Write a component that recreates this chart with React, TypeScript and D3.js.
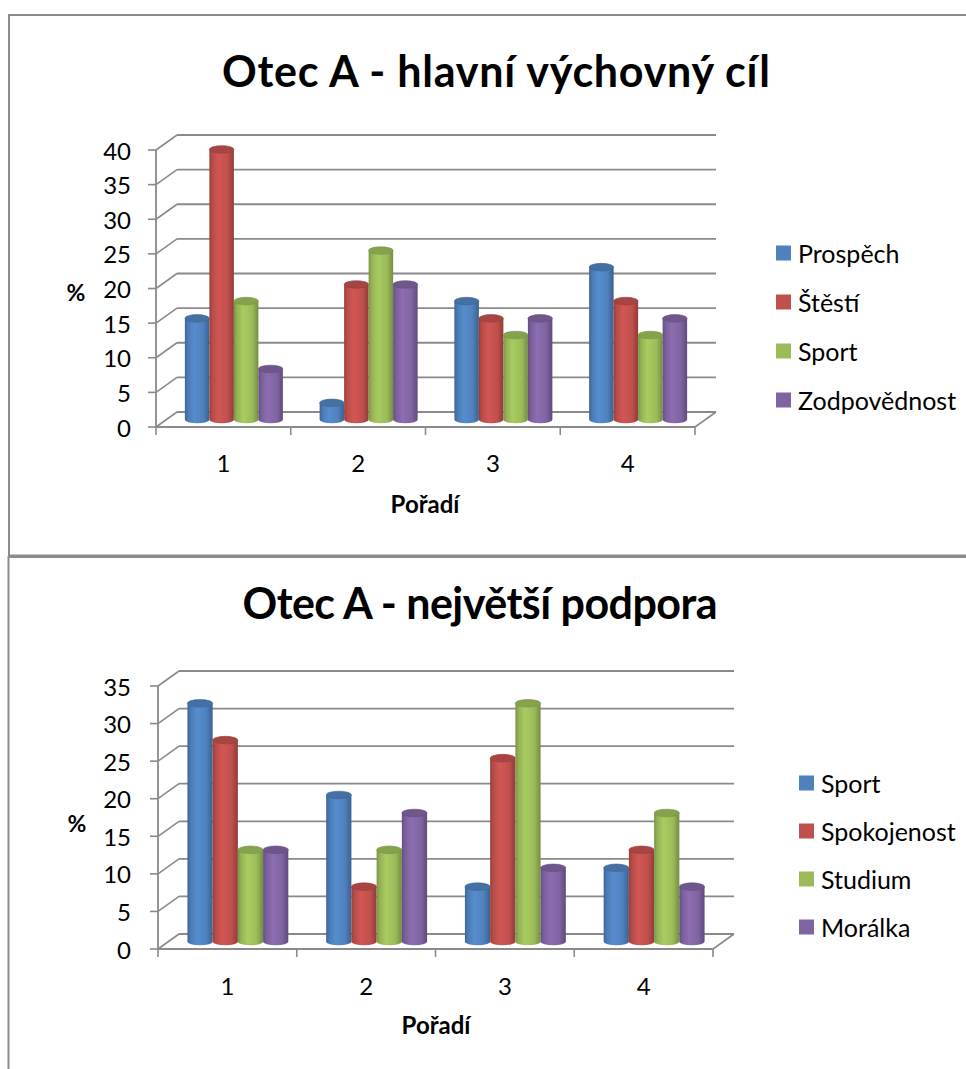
import React from "react";
import * as d3 from "d3";

const categories = ["1", "2", "3", "4"];

const seriesTop = ["Prospěch", "Štěstí", "Sport", "Zodpovědnost"];
const prospech = [14.6, 2.4, 17.1, 22.0];
const stesti = [39.0, 19.5, 14.6, 17.1];
const sportTop = [17.1, 24.4, 12.2, 12.2];
const zodpovednost = [7.3, 19.5, 14.6, 14.6];
const ticksTop = [0, 5, 10, 15, 20, 25, 30, 35, 40];

const seriesBottom = ["Sport", "Spokojenost", "Studium", "Morálka"];
const sportBottom = [31.7, 19.5, 7.3, 9.8];
const spokojenost = [26.8, 7.3, 24.4, 12.2];
const studium = [12.2, 12.2, 31.7, 17.1];
const moralka = [12.2, 17.1, 9.8, 7.3];
const ticksBottom = [0, 5, 10, 15, 20, 25, 30, 35];

const colors = ["#4F81BD", "#C0504D", "#9BBB59", "#8064A2"];
const FONT = "Lato, 'Open Sans', sans-serif";
const GRID = "#8a8a8a";

type ChartProps = {
  id: string;
  title: string;
  titleWidth: number;
  series: string[];
  values: number[][];
  ticks: number[];
  x0: number; x1: number; y0: number; yTop: number;
  titleX: number; titleY: number;
  legendX: number; legendY: number; legendStep: number;
  pctX: number; pctY: number;
  porX: number; porY: number;
  catLabelY: number;
};

function Chart(p: ChartProps) {
  const dx = 21, dy = -15;
  const max = p.ticks[p.ticks.length - 1];
  const y = d3.scaleLinear().domain([0, max]).range([p.y0, p.yTop]);
  const x = d3.scaleBand<string>().domain(categories).range([p.x0, p.x1]).padding(0);
  const xs = d3.scaleBand<string>().domain(p.series).range([0, x.bandwidth()]).paddingInner(0).paddingOuter(0.75);
  const bw = xs.bandwidth();
  const ry = 3.8;
  const bounds = [...categories.map((c) => x(c)!), p.x1];

  return (
    <g>
      <defs>
        {colors.map((c, i) => {
          const base = d3.color(c)!;
          return (
            <linearGradient key={i} id={`${p.id}g${i}`} x1="0" x2="1" y1="0" y2="0">
              <stop offset="0" stopColor={base.darker(0.7).formatHex()} />
              <stop offset="0.12" stopColor={base.darker(0.15).formatHex()} />
              <stop offset="0.38" stopColor={base.brighter(0.25).formatHex()} />
              <stop offset="0.75" stopColor={base.formatHex()} />
              <stop offset="1" stopColor={base.darker(0.8).formatHex()} />
            </linearGradient>
          );
        })}
      </defs>
      {p.ticks.map((t) => (
        <g key={t}>
          <line x1={p.x0 + dx} x2={p.x1 + dx} y1={y(t) + dy} y2={y(t) + dy} stroke={GRID} strokeWidth={1.8} />
          <line x1={p.x0} x2={p.x0 + dx} y1={y(t)} y2={y(t) + dy} stroke={GRID} strokeWidth={1.6} />
          <line x1={p.x0 - 8} x2={p.x0} y1={y(t)} y2={y(t)} stroke={GRID} strokeWidth={1.6} />
          <text x={131} y={y(t)} textAnchor="end" dominantBaseline="central" fontFamily={FONT} fontSize={24} fill="#000">
            {t}
          </text>
        </g>
      ))}
      <line x1={p.x1} x2={p.x1 + dx} y1={p.y0} y2={p.y0 + dy} stroke={GRID} strokeWidth={1.6} />
      <line x1={p.x0} x2={p.x1} y1={p.y0} y2={p.y0} stroke={GRID} strokeWidth={1.8} />
      <line x1={p.x0} x2={p.x0} y1={p.y0} y2={p.yTop} stroke={GRID} strokeWidth={1.8} />
      {bounds.map((b, i) => (
        <line key={i} x1={b} x2={b} y1={p.y0} y2={p.y0 + 8} stroke={GRID} strokeWidth={1.6} />
      ))}
      {categories.map((c, ci) =>
        p.series.map((s, si) => {
          const v = p.values[si][ci];
          const left = x(c)! + xs(s)! + dx / 2;
          const cx = left + bw / 2;
          const yb = y(0) + dy / 2;
          const yt = y(v) + dy / 2;
          const base = d3.color(colors[si])!;
          const body = `M${left},${yt} L${left},${yb} A${bw / 2},${ry} 0 0 0 ${left + bw},${yb} L${left + bw},${yt} Z`;
          return (
            <g key={`${ci}-${si}`}>
              <path d={body} fill={`url(#${p.id}g${si})`} />
              <ellipse cx={cx} cy={yt} rx={bw / 2} ry={ry} fill={base.darker(0.4).formatHex()} stroke={base.darker(0.7).formatHex()} strokeWidth={0.6} />
            </g>
          );
        })
      )}
      {categories.map((c) => (
        <text key={c} x={x(c)! + x.bandwidth() / 2} y={p.catLabelY} textAnchor="middle" dominantBaseline="central" fontFamily={FONT} fontSize={24}>
          {c}
        </text>
      ))}
      <text x={p.porX} y={p.porY} textAnchor="middle" dominantBaseline="central" fontFamily={FONT} fontSize={24} fontWeight="bold">
        Pořadí
      </text>
      <text x={p.pctX} y={p.pctY} textAnchor="middle" dominantBaseline="central" fontFamily={FONT} fontSize={23} fontWeight="bold">
        %
      </text>
      <text x={p.titleX} y={p.titleY} textAnchor="middle" fontFamily={FONT} fontSize={43} fontWeight="bold"
        textLength={p.titleWidth} lengthAdjust="spacing">
        {p.title}
      </text>
      {p.series.map((s, i) => (
        <g key={s}>
          <rect x={p.legendX} y={p.legendY + i * p.legendStep - 7.5} width={15} height={15} fill={colors[i]} />
          <text x={p.legendX + 22} y={p.legendY + i * p.legendStep} dominantBaseline="central" fontFamily={FONT} fontSize={25}>
            {s}
          </text>
        </g>
      ))}
    </g>
  );
}

export default function App() {
  return (
    <div>
      <style>{`html,body{margin:0;padding:0;overflow:hidden;background:#fff}`}</style>
      <svg width={966} height={1069} style={{ position: "absolute", left: 0, top: 0, background: "#fff" }}>
        <rect x={9} y={15} width={980} height={540.5} fill="#fff" stroke="#8c8c8c" strokeWidth={2} />
        <rect x={8.5} y={557} width={980} height={600} fill="#fff" stroke="#8c8c8c" strokeWidth={2} />
        <Chart
          id="top"
          title="Otec A - hlavní výchovný cíl"
          titleWidth={548}
          series={seriesTop}
          values={[prospech, stesti, sportTop, zodpovednost]}
          ticks={ticksTop}
          x0={156} x1={695} y0={427} yTop={150}
          titleX={496} titleY={87}
          legendX={776} legendY={253} legendStep={49}
          pctX={76} pctY={292}
          porX={425} porY={503}
          catLabelY={462}
        />
        <Chart
          id="bot"
          title="Otec A - největší podpora"
          titleWidth={475}
          series={seriesBottom}
          values={[sportBottom, spokojenost, studium, moralka]}
          ticks={ticksBottom}
          x0={158} x1={713} y0={949} yTop={686}
          titleX={480} titleY={619}
          legendX={799} legendY={783} legendStep={48}
          pctX={77} pctY={823}
          porX={436} porY={1024}
          catLabelY={985}
        />
      </svg>
    </div>
  );
}
